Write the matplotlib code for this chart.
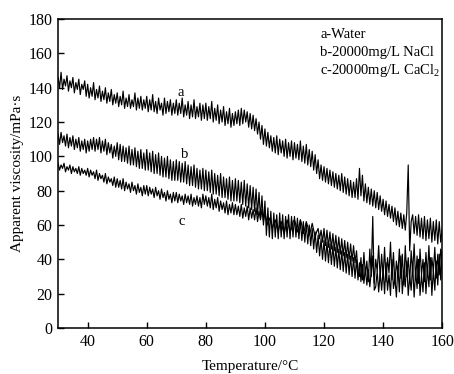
#!/usr/bin/env python3
"""Apparent viscosity vs temperature for three brines."""
import numpy as np
import matplotlib
matplotlib.use('Agg')
import matplotlib.pyplot as plt

plt.rcParams['font.family'] = ['Liberation Serif', 'DejaVu Serif']
plt.rcParams['mathtext.fontset'] = 'custom'
plt.rcParams['mathtext.rm'] = 'Liberation Serif'

# temperature grid, 0.5 degC steps from 30 to 160
temperature = np.linspace(30, 160, 261)

# a - Water
visc_water = [
    146, 140, 149, 139, 145, 141, 147, 138, 144, 140, 146, 137, 143, 139, 145, 136, 142, 139, 144, 135,
    142, 134, 140, 135, 143, 133, 139, 134, 141, 132, 138, 133, 140, 131, 137, 132, 139, 130, 136, 131,
    137, 129, 135, 130, 138, 128, 134, 129, 136, 128, 133, 129, 137, 127, 134, 128, 135, 127, 133, 128,
    135, 126, 133, 127, 136, 126, 132, 125, 134, 127, 131, 124, 134, 125, 132, 126, 133, 124, 131, 125,
    133, 124, 131, 125, 134, 123, 130, 124, 132, 122, 130, 123, 133, 122, 129, 123, 131, 121, 130, 122,
    131, 121, 129, 122, 132, 120, 128, 121, 130, 119, 127, 120, 129, 118, 126, 119, 128, 117, 125, 118,
    126, 119, 127, 118, 128, 119, 127, 120, 126, 117, 125, 116, 124, 115, 122, 113, 120, 110, 118, 107,
    116, 106, 114, 105, 112, 103, 111, 102, 112, 101, 110, 102, 109, 100, 110, 99, 108, 100, 109, 98,
    108, 99, 107, 98, 109, 97, 106, 96, 107, 95, 104, 94, 103, 92, 101, 90, 98, 87, 95, 86,
    94, 85, 93, 84, 92, 83, 91, 82, 90, 81, 89, 80, 90, 79, 88, 78, 87, 77, 86, 76,
    85, 76, 87, 75, 93, 77, 89, 74, 84, 73, 82, 72, 81, 71, 80, 70, 79, 69, 77, 68,
    75, 66, 74, 65, 72, 64, 71, 62, 70, 60, 68, 59, 67, 58, 66, 57, 67, 95, 45, 62,
    66, 55, 65, 54, 66, 53, 64, 52, 65, 51, 63, 52, 64, 50, 62, 51, 63, 49, 62, 50,
    58,
]

# b - 20000 mg/L NaCl
visc_nacl = [
    113, 107, 114, 108, 112, 106, 113, 105, 111, 106, 112, 104, 110, 105, 111, 103, 109, 104, 110, 102,
    109, 103, 110, 104, 111, 103, 110, 104, 111, 102, 109, 103, 110, 101, 108, 102, 107, 99, 106, 100,
    108, 98, 107, 97, 106, 97, 105, 96, 106, 95, 104, 95, 105, 94, 103, 93, 104, 93, 102, 92,
    104, 92, 102, 91, 103, 90, 101, 90, 102, 89, 100, 88, 99, 88, 100, 87, 98, 86, 97, 86,
    98, 86, 97, 85, 96, 85, 97, 84, 95, 83, 94, 83, 95, 82, 93, 81, 92, 81, 93, 80,
    92, 80, 91, 79, 92, 78, 90, 78, 89, 77, 90, 76, 88, 76, 87, 75, 88, 74, 86, 74,
    87, 74, 86, 73, 85, 72, 86, 71, 84, 70, 83, 69, 82, 68, 81, 66, 79, 64, 77, 60,
    74, 54, 70, 53, 68, 52, 67, 53, 66, 52, 67, 53, 66, 52, 65, 53, 66, 52, 65, 53,
    65, 53, 64, 52, 63, 51, 62, 50, 61, 49, 60, 48, 58, 46, 56, 44, 54, 42, 52, 40,
    51, 39, 50, 38, 49, 37, 48, 36, 47, 35, 46, 34, 45, 33, 44, 32, 43, 31, 42, 30,
    41, 29, 40, 28, 38, 27, 37, 26, 35, 25, 34, 24, 33, 65, 22, 24, 33, 21, 32, 22,
    34, 20, 38, 22, 31, 19, 40, 23, 29, 18, 36, 21, 42, 20, 33, 24, 39, 19, 30, 22,
    37, 18, 33, 23, 40, 19, 31, 21, 38, 20, 35, 24, 41, 19, 34, 22, 39, 25, 43, 28,
    45,
]

# c - 20000 mg/L CaCl2
visc_cacl2 = [
    96, 92, 95, 93, 96, 91, 94, 92, 95, 90, 94, 91, 93, 90, 94, 89, 93, 90, 92, 89,
    93, 88, 92, 89, 91, 87, 92, 86, 90, 87, 89, 85, 90, 84, 88, 85, 87, 83, 88, 82,
    87, 82, 86, 81, 87, 80, 85, 81, 84, 79, 85, 80, 83, 78, 84, 79, 82, 77, 83, 78,
    83, 77, 82, 78, 81, 76, 82, 77, 80, 75, 81, 76, 79, 74, 80, 75, 78, 73, 79, 74,
    79, 73, 78, 74, 77, 72, 78, 73, 77, 72, 78, 71, 76, 72, 77, 71, 76, 70, 78, 72,
    77, 71, 76, 70, 78, 69, 75, 70, 76, 68, 74, 69, 73, 67, 74, 66, 72, 67, 73, 66,
    72, 66, 71, 65, 72, 64, 70, 65, 71, 63, 70, 64, 69, 63, 70, 62, 68, 63, 69, 62,
    67, 63, 60, 64, 62, 58, 61, 63, 59, 56, 60, 62, 58, 55, 59, 63, 60, 56, 58, 62,
    63, 60, 56, 59, 63, 60, 55, 58, 62, 59, 54, 57, 61, 57, 53, 56, 58, 52, 57, 50,
    58, 48, 57, 47, 56, 46, 55, 45, 54, 44, 53, 43, 52, 42, 51, 41, 50, 40, 49, 39,
    48, 38, 45, 33, 30, 41, 28, 44, 31, 39, 27, 46, 30, 42, 26, 40, 33, 48, 29, 43,
    30, 47, 27, 41, 32, 50, 28, 44, 26, 39, 31, 46, 29, 43, 25, 48, 30, 41, 27, 45,
    32, 49, 28, 42, 26, 46, 31, 40, 27, 44, 30, 48, 28, 41, 33, 47, 29, 43, 31, 46,
    40,
]

curve_tags = ['a', 'b', 'c']
legend_lines = ['a-Water', 'b-20000mg/L NaCl', 'c-20000mg/L CaCl$_2$']
x_ticks = [40, 60, 80, 100, 120, 140, 160]
y_ticks = [0, 20, 40, 60, 80, 100, 120, 140, 160, 180]

fig = plt.figure(figsize=(4.54, 3.74), dpi=100)
ax = fig.add_axes([0.128, 0.123, 0.846, 0.826])

for series in (visc_water, visc_nacl, visc_cacl2):
    ax.plot(temperature, series, color='black', linewidth=0.85)

# curve tags next to the lines
for tag, (tx, ty) in zip(curve_tags, [(71.6, 137.4), (72.9, 101.3), (71.9, 62.3)]):
    ax.text(tx, ty, tag, fontsize=10.5, ha='center', va='center')

# text legend in the upper right
for line, ly in zip(legend_lines, [169.2, 158.4, 147.9]):
    ax.text(118.7, ly, line, fontsize=10.5, ha='left', va='baseline')

ax.set_xlim(30, 160)
ax.set_ylim(0, 180)
ax.set_xticks(x_ticks)
ax.set_yticks(y_ticks)
ax.tick_params(direction='in', length=4, width=1, labelsize=11.5, pad=4,
               top=False, right=False)
for sp in ax.spines.values():
    sp.set_linewidth(1.1)

ax.set_xlabel('Temperature/\u00b0C', fontsize=11, labelpad=7.5)
ax.set_ylabel('Apparent viscosity/mPa\u00b7s', fontsize=11, labelpad=3)

plt.savefig('out.png', dpi=100)
